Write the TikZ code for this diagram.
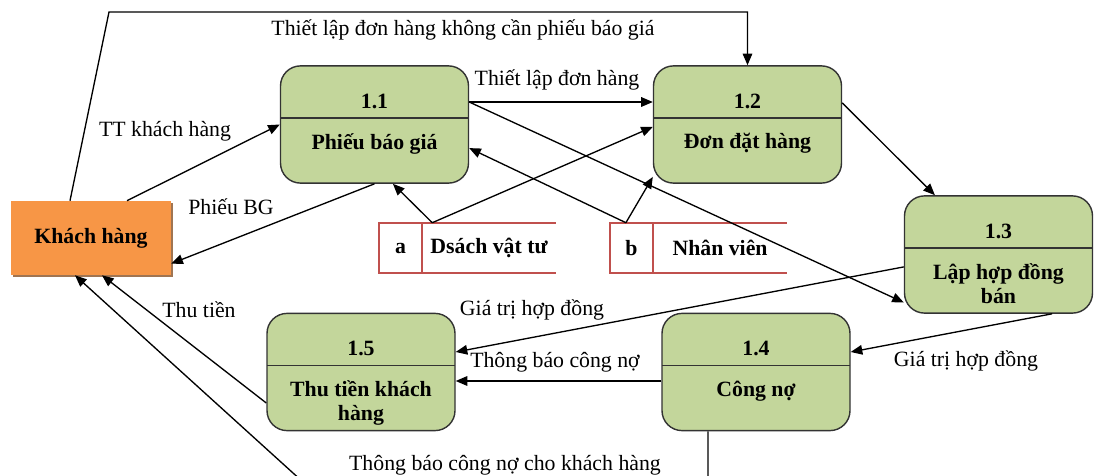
\documentclass[tikz,border=0pt]{standalone}
\usepackage{fontspec}
\setmainfont{Liberation Serif}
\usepackage{xcolor}
\usepackage{tikz}
\usetikzlibrary{positioning}
\usetikzlibrary{arrows.meta}
\usetikzlibrary{shadows}

\definecolor{procgreen}{HTML}{C3D69B}
\definecolor{custorange}{HTML}{F79646}
\definecolor{storered}{HTML}{C0504D}

\tikzset{
	proc/.style={draw=black!80, line width=1pt, fill=procgreen, rounded corners=5mm,
		minimum width=4.7cm, minimum height=2.93cm,
		path picture={\draw[black!80, line width=1pt]
			([yshift=-1.3cm]path picture bounding box.north west) --
			([yshift=-1.3cm]path picture bounding box.north east);}},
	procnum/.style={inner sep=0pt, font=\bfseries},
	proctitle/.style={inner sep=0pt, font=\bfseries, align=center},
	entity/.style={fill=custorange, minimum width=4cm, minimum height=1.85cm, font=\bfseries,
		drop shadow={shadow xshift=.06cm, shadow yshift=-.06cm, fill=custorange!55!black, opacity=.8}},
	storeid/.style={minimum width=1.075cm, minimum height=1.25cm, inner sep=0pt, font=\bfseries},
	storename/.style={minimum width=3.325cm, minimum height=1.25cm, inner sep=0pt, font=\bfseries},
	storeline/.style={draw=storered, line width=1.5pt},
	flow/.style={draw, line width=.95pt, -{Triangle[length=2.9mm,width=2.4mm]}},
	flowlabel/.style={inner sep=0pt}
}

\begin{document}
\begin{tikzpicture}
\fontsize{15.5pt}{17pt}\selectfont
\useasboundingbox (0,0) rectangle (27.6,-11.9);
\clip (0,0) rectangle (27.6,-11.9);

% customer
\node (khach) 
	[entity] at (2.275,-5.95)
	{Khách hàng};

% processes
\node (p11) [proc] at (9.3625,-3.1125) {};
\node (p12) [proc] at (18.6875,-3.1125) {};
\node (p13) [proc] at (24.9625,-6.3625) {};
\node (p14) [proc] at (18.9,-9.3) {};
\node (p15) [proc] at (9.025,-9.3) {};

\node (n11) [procnum] at ([yshift=-.9cm]p11.north) {1.1};
\node (n12) [procnum] at ([yshift=-.9cm]p12.north) {1.2};
\node (n13) [procnum] at ([yshift=-.9cm]p13.north) {1.3};
\node (n14) [procnum] at ([yshift=-.9cm]p14.north) {1.4};
\node (n15) [procnum] at ([yshift=-.9cm]p15.north) {1.5};

\node (t11) 
	[proctitle, below=1.7cm of p11.north]
	{Phiếu báo giá};
\node (t12) 
	[proctitle, below=1.7cm of p12.north]
	{Đơn đặt hàng};
\node (t13) 
	[proctitle, below=1.7cm of p13.north]
	{Lập hợp đồng\\bán};
\node (t14) 
	[proctitle, below=1.7cm of p14.north]
	{Công nợ};
\node (t15) 
	[proctitle, below=1.7cm of p15.north]
	{Thu tiền khách\\hàng};

% data stores
\node (ida) [storeid] at (10.0125,-6.2) {a};
\node (vattu) 
	[storename, right=0pt of ida]
	{Dsách vật tư};
\node (idb) [storeid] at (15.7875,-6.2) {b};
\node (nhanvien) 
	[storename, right=0pt of idb]
	{Nhân viên};

\draw[storeline] (vattu.north east) -- (ida.north west) -- (ida.south west) -- (vattu.south east);
\draw[storeline] (ida.north east) -- (ida.south east);
\draw[storeline] (nhanvien.north east) -- (idb.north west) -- (idb.south west) -- (nhanvien.south east);
\draw[storeline] (idb.north east) -- (idb.south east);

% flows
\coordinate (corner) at (2.725,-.3);
\coordinate (atop) at ([xshift=.25cm]vattu.north west);
\coordinate (btop) at ([xshift=-.14cm]idb.north);
\coordinate (under) at (8.07,-12.5);

\draw[flow] ([xshift=-.525cm]khach.north) -- (corner) -| (p12.north);
\draw[flow] ([xshift=.9cm]khach.north) -- (p11.west);
\draw[flow] (p11.south) -- ([yshift=-.64cm]khach.east);
\draw[flow] ([yshift=.5625cm]p11.east) -- ([yshift=.5625cm]p12.west);
\draw[flow] ([yshift=.5625cm]p11.east) -- ([yshift=-1.2cm]p13.west);
\draw[flow] (atop) -- ([xshift=.46cm]p11.south);
\draw[flow] (atop) -- ([yshift=-.06cm]p12.west);
\draw[flow] (btop) -- ([yshift=-.59cm]p11.east);
\draw[flow] (btop) -- ([yshift=-1.31cm]p12.west);
\draw[flow] ([yshift=.54cm]p12.east) -- ([xshift=-1.59cm]p13.north);
\draw[flow] ([yshift=-.31cm]p13.west) -- ([yshift=.5cm]p15.east);
\draw[flow] ([xshift=1.34cm]p13.south) -- ([yshift=.5cm]p14.east);
\draw[flow] ([yshift=-.225cm]p14.west) -- ([yshift=-.225cm]p15.east);
\draw[flow] ([yshift=-.775cm]p15.west) -- ([xshift=.275cm]khach.south);
\draw[flow] ([xshift=-1.2cm]p14.south) |- (under) -- ([xshift=-.4cm]khach.south);

% flow labels
\node (lkhongbg) [flowlabel] at (11.575,-.75) {Thiết lập đơn hàng không cần phiếu báo giá};
\node (lttkh) [flowlabel] at (4.125,-3.275) {TT khách hàng};
\node (lphieubg) [flowlabel] at (5.775,-5.175) {Phiếu BG};
\node (llapdon) [flowlabel] at (13.925,-2.0) {Thiết lập đơn hàng};
\node (lgiatri) [flowlabel] at (13.3,-7.75) {Giá trị hợp đồng};
\node (lgiatrihd) [flowlabel] at (24.15,-9.025) {Giá trị hợp đồng};
\node (lthongbao) [flowlabel] at (13.875,-9.05) {Thông báo công nợ};
\node (lthongbaokh) [flowlabel] at (12.625,-11.625) {Thông báo công nợ cho khách hàng};
\node (lthutien) [flowlabel] at (4.975,-7.75) {Thu tiền};
\end{tikzpicture}
\end{document}
